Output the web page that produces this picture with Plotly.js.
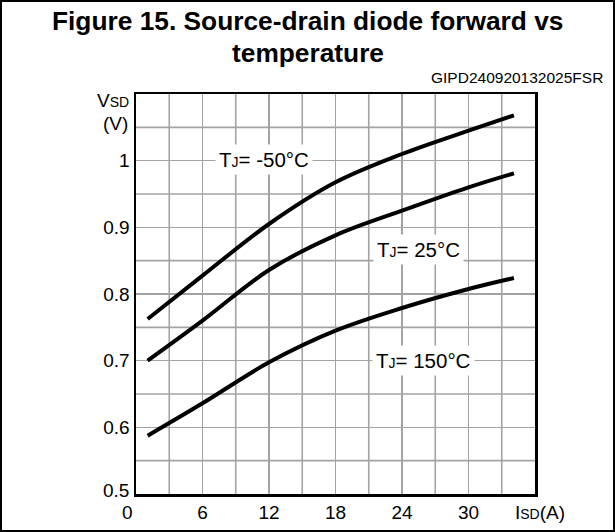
<!DOCTYPE html>
<html>
<head>
<meta charset="utf-8">
<script src="https://cdn.plot.ly/plotly-3.0.1.min.js"></script>
<style>
html,body{margin:0;padding:0;background:#fff;}
#wrap{position:relative;width:615px;height:532px;}
#chart{width:615px;height:532px;}
#frame{position:absolute;left:0;top:0;width:615px;height:532px;box-sizing:border-box;border:2px solid #000;pointer-events:none;}
</style>
</head>
<body>
<div id="wrap"><div id="chart"></div><div id="frame"></div></div>
<script>
// Data (ISD in A, VSD in V)
const isd = [1.05, 6, 12, 18, 24, 30, 34.1];
const vsdMinus50 = [0.7625, 0.8275, 0.905, 0.9675, 1.01, 1.045, 1.068];
const vsd25 = [0.700, 0.760, 0.836, 0.888, 0.925, 0.960, 0.981];
const vsd150 = [0.5875, 0.636, 0.6975, 0.745, 0.779, 0.8075, 0.824];
const xTickVals = [6, 12, 18, 24, 30];
const xTickText = ['6', '12', '18', '24', '30'];
const yTickVals = [0.6, 0.7, 0.8, 0.9, 1];
const yTickText = ['0.6', '0.7', '0.8', '0.9', '1'];
const seriesLabels = ['T<span style="font-size:14px">J</span>= -50°C', 'T<span style="font-size:14px">J</span>= 25°C', 'T<span style="font-size:14px">J</span>= 150°C'];
const titleLines = ['<b>Figure 15. Source-drain diode forward vs</b>', '<b>temperature</b>'];

const FONT = 'Liberation Sans, Arial, sans-serif';
const GRID = '#a3a3a3';
const line = {color: '#000', width: 4, shape: 'spline', smoothing: 1};
const traces = [vsdMinus50, vsd25, vsd150].map(v => ({
  x: isd, y: v, type: 'scatter', mode: 'lines', line: line, hoverinfo: 'skip', showlegend: false
}));

const lbl = (x, y, t) => ({x: x, y: y, xref: 'x', yref: 'y', text: t, showarrow: false,
  font: {family: FONT, size: 20.5, color: '#000'}, bgcolor: '#fff', borderpad: 3});
const pap = (x, y, t, size, xa, ya, extra) => Object.assign({xref: 'paper', yref: 'paper', x: x, y: y,
  xanchor: xa, yanchor: ya, showarrow: false, text: t, font: {family: FONT, size: size, color: '#000'}}, extra || {});

const layout = {
  width: 615, height: 532,
  margin: {l: 136, r: 80, t: 94, b: 38},
  paper_bgcolor: '#fff', plot_bgcolor: '#fff',
  font: {family: FONT, color: '#000'},
  xaxis: {range: [0, 36], showgrid: true, gridcolor: GRID, gridwidth: 1.6,
    tickmode: 'array', tickvals: xTickVals, ticktext: xTickText, ticks: '',
    showline: true, linecolor: '#000', linewidth: 2.5, mirror: true, zeroline: false,
    tickfont: {family: FONT, size: 19, color: '#000'}, fixedrange: true},
  yaxis: {range: [0.5, 1.1], showgrid: true, gridcolor: GRID, gridwidth: 1.6,
    tickmode: 'array', tickvals: yTickVals, ticktext: yTickText, ticks: '',
    showline: true, linecolor: '#000', linewidth: 2.5, mirror: true, zeroline: false,
    tickfont: {family: FONT, size: 19, color: '#000'}, fixedrange: true},
  shapes: [0.55,0.65,0.75,0.85,0.95,1.05].map(v => ({type:'line', xref:'paper', x0:0, x1:1, yref:'y', y0:v, y1:v, line:{color:GRID, width:1.6}, layer:'below'}))
    .concat([3,9,15,21,27,33].map(v => ({type:'line', yref:'paper', y0:0, y1:1, xref:'x', x0:v, x1:v, line:{color:GRID, width:1.6}, layer:'below'}))),
  annotations: [
    lbl(11.55, 1.0025, seriesLabels[0]),
    lbl(25.5, 0.8675, seriesLabels[1]),
    lbl(25.95, 0.700, seriesLabels[2]),
    pap(0.431, 1.1825, titleLines[0], 26.3, 'center', 'middle'),
    pap(0.431, 1.1025, titleLines[1], 26.3, 'center', 'middle'),
    pap(1.175, 1.04, 'GIPD240920132025FSR', 15.5, 'right', 'middle'),
    pap(-0.013, 0.985, 'V<span style="font-size:14px">SD</span>', 19, 'right', 'middle'),
    pap(-0.015, 0.927, '(V)', 19, 'right', 'middle'),
    pap(-0.013, 0.008, '0.5', 19, 'right', 'middle'),
    pap(-0.022, 0, '0', 19, 'center', 'top', {yshift: -6}),
    pap(1.012, 0, 'I<span style="font-size:14px">SD</span>(A)', 19, 'center', 'top', {yshift: -6})
  ]
};

Plotly.newPlot('chart', traces, layout, {displayModeBar: false, staticPlot: true});
</script>
</body>
</html>
